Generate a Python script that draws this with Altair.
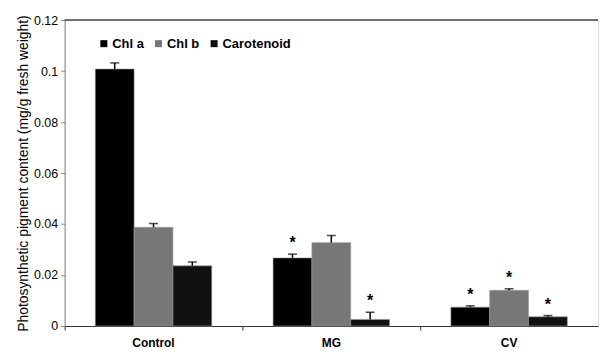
import altair as alt
import pandas as pd

treatments = ["Control", "MG", "CV"]
pigments = ["Chl a", "Chl b", "Carotenoid"]
chl_a = [0.1008, 0.0267, 0.0074]
chl_b = [0.0387, 0.0327, 0.0140]
carot = [0.0236, 0.0026, 0.0036]
err_a = [0.0024, 0.0015, 0.0005]
err_b = [0.0015, 0.0028, 0.0006]
err_c = [0.0015, 0.0028, 0.0005]
star_a = ["", "*", "*"]
star_b = ["", "", "*"]
star_c = ["", "*", "*"]

rows = []
for i, t in enumerate(treatments):
    for p, v, e, s in zip(pigments, [chl_a[i], chl_b[i], carot[i]],
                          [err_a[i], err_b[i], err_c[i]],
                          [star_a[i], star_b[i], star_c[i]]):
        rows.append({"treatment": t, "pigment": p, "value": v,
                     "top": v + e, "star": s})
df = pd.DataFrame(rows)

x = alt.X("treatment:N", sort=treatments,
          scale=alt.Scale(paddingInner=0, paddingOuter=0),
          axis=alt.Axis(title=None, bandPosition=0, labelAngle=0,
                        labelFont="Liberation Sans", labelFontWeight="bold",
                        labelFontSize=12, labelColor="#000", labelPadding=8,
                        domainColor="#333", tickColor="#333", tickSize=4,
                        grid=False))
xo = alt.XOffset("pigment:N", sort=pigments,
                 scale=alt.Scale(paddingInner=0, paddingOuter=0.79))
y = alt.Y("value:Q", scale=alt.Scale(domain=[0, 0.12], nice=False),
          axis=alt.Axis(title="Photosynthetic pigment content  (mg/g fresh weight)",
                        values=[0, 0.02, 0.04, 0.06, 0.08, 0.1, 0.12],
                        format=".2~f", grid=False,
                        labelFont="Liberation Sans", labelFontSize=12.5,
                        labelColor="#000", labelPadding=3,
                        titleFont="Liberation Sans", titleFontSize=14,
                        titleFontWeight="normal", titleColor="#000",
                        titlePadding=3,
                        domainColor="#888", tickColor="#888", tickSize=4))

color = alt.Color("pigment:N", sort=pigments,
                  scale=alt.Scale(domain=pigments,
                                  range=["#000000", "#777777", "#111111"]),
                  legend=alt.Legend(title=None, orient="none", legendX=33,
                                    legendY=17, direction="horizontal",
                                    symbolType="square", symbolSize=50,
                                    symbolStrokeWidth=0,
                                    labelFont="Liberation Sans",
                                    labelFontWeight="bold", labelFontSize=13,
                                    labelColor="#000", columnPadding=8,
                                    labelOffset=2))

base = alt.Chart(df)

bars = base.mark_bar(stroke="#999", strokeWidth=0.6).encode(
    x=x, xOffset=xo, y=y, color=color)

err = base.mark_rule(color="#000", strokeWidth=1.5).encode(
    x=x, xOffset=xo, y="value:Q", y2="top:Q")

cap = base.mark_tick(color="#000", size=9, thickness=1.5,
                     orient="horizontal").encode(
    x=x, xOffset=xo, y="top:Q")

stars = base.mark_text(font="Liberation Sans", fontWeight="bold",
                       fontSize=16, dy=-3, baseline="bottom",
                       color="#000").encode(
    x=x, xOffset=xo, y="top:Q", text="star:N")

top_line = alt.Chart(pd.DataFrame({"v": [0.12]})).mark_rule(
    color="#444", strokeWidth=1.5).encode(y="v:Q")

chart = alt.layer(bars, err, cap, stars, top_line).properties(
    width=537, height=308, padding={"left": 8, "top": 3, "right": 0, "bottom": 0}
).configure_view(stroke=None).configure(background="white")

chart.save("out.html", embed_options={"renderer": "svg", "actions": False})
